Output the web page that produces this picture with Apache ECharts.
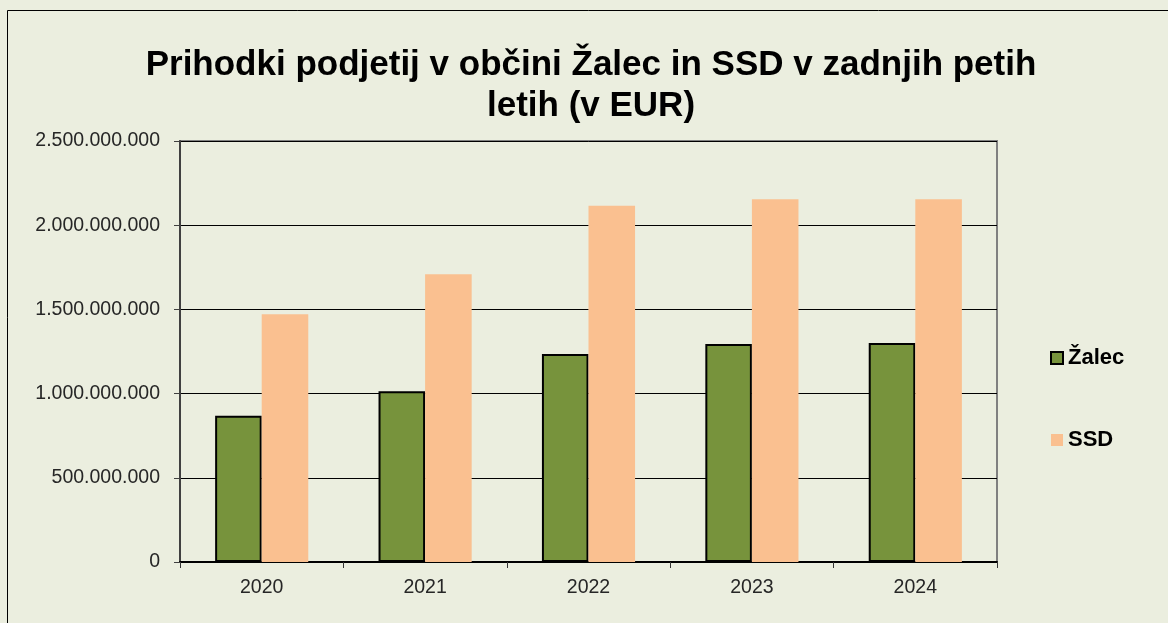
<!DOCTYPE html>
<html>
<head>
<meta charset="utf-8">
<script src="https://cdn.jsdelivr.net/npm/echarts@6/dist/echarts.min.js"></script>
<style>
  html, body { margin: 0; padding: 0; background: #ebeedf; }
  #chart { width: 1168px; height: 623px; }
</style>
</head>
<body>
<div id="chart"></div>
<script>
  var years = ['2020', '2021', '2022', '2023', '2024']
  var zalec = [869000000, 1014000000, 1235000000, 1295000000, 1300000000]
  var ssd = [1471000000, 1708000000, 2116000000, 2154000000, 2154000000]
  var yTicks = [0, 500000000, 1000000000, 1500000000, 2000000000, 2500000000]

  var font = '"Liberation Sans", Arial, sans-serif'

  function fmt(v) {
    return String(v).replace(/\B(?=(\d{3})+(?!\d))/g, '.')
  }

  var chart = echarts.init(document.getElementById('chart'))
  chart.setOption({
    backgroundColor: '#ebeedf',
    animation: false,
    title: {
      text: 'Prihodki podjetij v občini Žalec in SSD v zadnjih petih\nletih (v EUR)',
      left: 591,
      top: 45,
      padding: 0,
      textAlign: 'center',
      textStyle: {
        fontFamily: font,
        fontWeight: 'bold',
        fontSize: 35,
        lineHeight: 41,
        color: '#000'
      }
    },
    legend: {
      orient: 'vertical',
      left: 1050,
      top: 347,
      padding: 0,
      itemGap: 60,
      itemWidth: 12,
      itemHeight: 12,
      icon: 'rect',
      textStyle: {
        fontFamily: font,
        fontWeight: 'bold',
        fontSize: 22,
        color: '#000'
      },
      data: ['Žalec', 'SSD']
    },
    grid: {
      left: 180,
      top: 141,
      right: 171,
      bottom: 61,
      show: true,
      borderColor: '#808080',
      borderWidth: 2,
      backgroundColor: 'transparent'
    },
    xAxis: {
      type: 'category',
      data: years,
      axisLine: { lineStyle: { color: '#000', width: 2 } },
      axisTick: { show: true, length: 6, lineStyle: { color: '#333' } },
      axisLabel: {
        fontFamily: font,
        fontSize: 19.5,
        color: '#262626',
        margin: 16
      }
    },
    yAxis: {
      type: 'value',
      min: yTicks[0],
      max: yTicks[yTicks.length - 1],
      interval: yTicks[1] - yTicks[0],
      axisLine: { show: true, lineStyle: { color: '#404040', width: 2 } },
      axisTick: { show: true, length: 6, lineStyle: { color: '#404040' } },
      axisLabel: {
        fontFamily: font,
        fontSize: 19.5,
        color: '#262626',
        margin: 20,
        formatter: fmt
      },
      splitLine: { lineStyle: { color: '#000', width: 1 } }
    },
    graphic: [{
      type: 'rect',
      shape: { x: 7.5, y: 10.5, width: 1300, height: 800 },
      style: { fill: null, stroke: '#000', lineWidth: 1 },
      silent: true
    }],
    series: [
      {
        name: 'Žalec',
        type: 'bar',
        barGap: '0%',
        barCategoryGap: '43%',
        itemStyle: {
          color: '#77933c',
          borderColor: '#000',
          borderWidth: 2
        },
        data: zalec
      },
      {
        name: 'SSD',
        type: 'bar',
        itemStyle: {
          color: '#fac090'
        },
        data: ssd
      }
    ]
  })
</script>
</body>
</html>
